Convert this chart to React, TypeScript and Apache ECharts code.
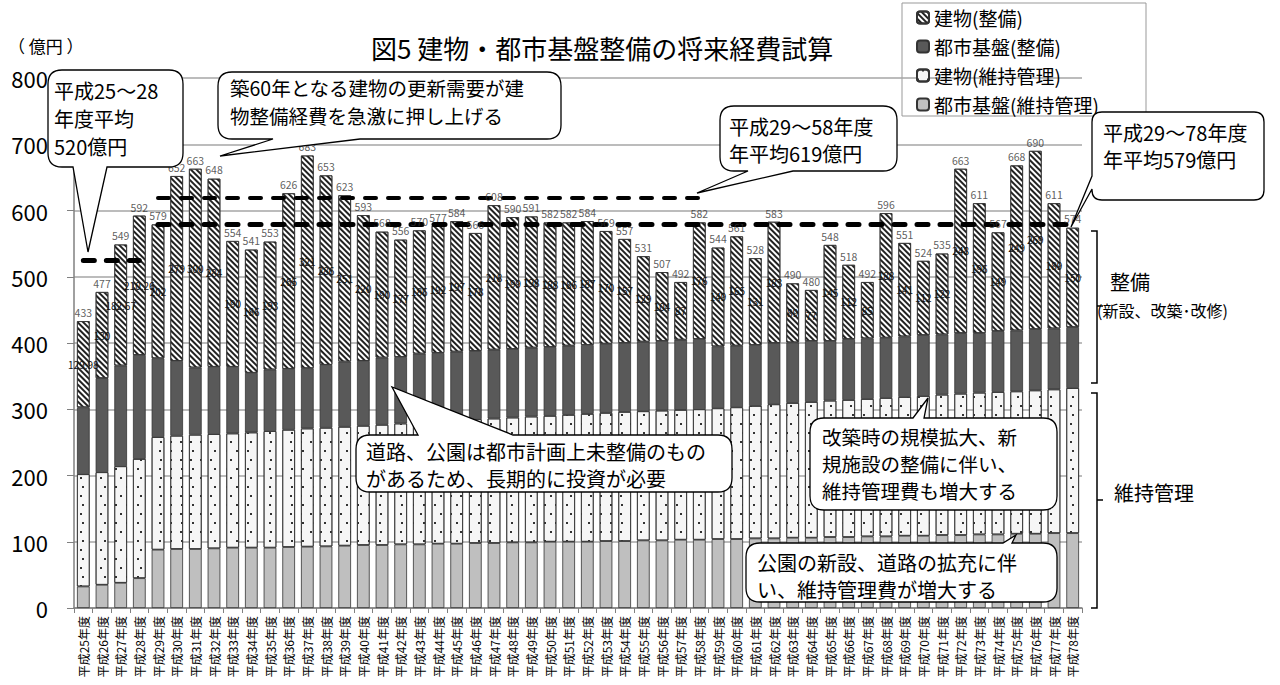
import React, { useEffect, useRef } from "react";
import * as echarts from "echarts";

const FONT = '"Noto Sans CJK JP", "Noto Sans", sans-serif';

const categories = [
  "平成25年度", "平成26年度", "平成27年度", "平成28年度", "平成29年度", "平成30年度",
  "平成31年度", "平成32年度", "平成33年度", "平成34年度", "平成35年度", "平成36年度",
  "平成37年度", "平成38年度", "平成39年度", "平成40年度", "平成41年度", "平成42年度",
  "平成43年度", "平成44年度", "平成45年度", "平成46年度", "平成47年度", "平成48年度",
  "平成49年度", "平成50年度", "平成51年度", "平成52年度", "平成53年度", "平成54年度",
  "平成55年度", "平成56年度", "平成57年度", "平成58年度", "平成59年度", "平成60年度",
  "平成61年度", "平成62年度", "平成63年度", "平成64年度", "平成65年度", "平成66年度",
  "平成67年度", "平成68年度", "平成69年度", "平成70年度", "平成71年度", "平成72年度",
  "平成73年度", "平成74年度", "平成75年度", "平成76年度", "平成77年度", "平成78年度",
];

// 都市基盤(維持管理)
const toshiIji = [
  32.5, 35, 38, 45, 88, 89, 89, 90, 91, 91, 91, 92, 92.5, 93, 94, 95, 95, 96, 96, 97,
  97, 98, 98, 99, 99, 100, 100, 100, 101, 101, 102, 102, 103, 103, 104, 104, 105, 105,
  106, 106, 107, 107, 108, 108, 109, 109, 110, 110, 111, 111, 112, 112, 113, 113,
];
// 建物(維持管理)
const tatemonoIji = [
  169.5, 170, 176, 180, 170, 171, 172.5, 172.5, 172.5, 174, 176, 177, 178.5, 179, 179.5,
  180, 181.5, 182.5, 184.5, 185, 186.5, 187, 188, 188.5, 190, 190, 191.5, 193, 193.5,
  195, 195, 196, 196, 197, 197.5, 199, 200, 202.5, 203.5, 205, 206, 207, 207.5, 209,
  209.5, 211, 212, 213.5, 214, 215, 215, 216.5, 217, 219,
];
// 都市基盤(整備)
const toshiSeibi = [
  101, 142, 152, 157, 119, 113, 101.5, 101.5, 100.5, 90, 93, 92, 91, 95, 98.5, 98,
  101.5, 100.5, 103.5, 103, 103.5, 103, 104, 103.5, 104, 104, 104.5, 104, 104.5, 104,
  105, 105, 106, 106, 93.5, 93, 92, 92.5, 91.5, 92, 90, 92, 91.5, 91, 91.5, 92, 91,
  91.5, 90, 92, 92, 92.5, 92, 92,
];
// 建物(整備)
const tatemonoSeibi = [
  129.98, 130, 182.67, 210.26, 202, 279, 300, 284, 190, 186, 193, 265, 321, 286, 251,
  220, 190, 177, 186, 192, 197, 178, 218, 199, 198, 188, 186, 187, 170, 157, 129, 104,
  87, 176, 149, 165, 131, 183, 89, 77, 145, 112, 85, 188, 141, 112, 122, 248, 196, 149,
  249, 269, 189, 150,
];

const seriesNames = ["建物(整備)", "都市基盤(整備)", "建物(維持管理)", "都市基盤(維持管理)"];

// average lines
const avgFrom = ["平成25年度", "平成29年度", "平成29年度"];
const avgTo = ["平成28年度", "平成58年度", "平成78年度"];
const avgValue = [525, 619, 579];
const avgWidth = [5, 4, 5];

function bubble(
  x: number, y: number, w: number, h: number, r: number,
  side: string, p1: number, p2: number, tx: number, ty: number
) {
  const R = x + w, B = y + h;
  let d = `M${x + r},${y}`;
  if (side === "top") d += ` L${p1},${y} L${tx},${ty} L${p2},${y}`;
  d += ` L${R - r},${y} Q${R},${y} ${R},${y + r}`;
  if (side === "right") d += ` L${R},${p1} L${tx},${ty} L${R},${p2}`;
  d += ` L${R},${B - r} Q${R},${B} ${R - r},${B}`;
  if (side === "bottom") d += ` L${p2},${B} L${tx},${ty} L${p1},${B}`;
  d += ` L${x + r},${B} Q${x},${B} ${x},${B - r}`;
  if (side === "left") d += ` L${x},${p2} L${tx},${ty} L${x},${p1}`;
  d += ` L${x},${y + r} Q${x},${y} ${x + r},${y} Z`;
  return d;
}

const callouts = [
  { box: [48, 70, 135, 97, 14], side: "bottom", p: [73, 107], tip: [88, 252], lines: ["平成25～28", "年度平均", "520億円"], at: [54, 76], lh: 28, fs: 20 },
  { box: [218, 72, 343, 67, 14], side: "bottom", p: [273, 360], tip: [220, 156], lines: ["築60年となる建物の更新需要が建", "物整備経費を急激に押し上げる"], at: [230, 74], lh: 27.5, fs: 19.5 },
  { box: [720, 106, 177, 65, 14], side: "bottom", p: [748, 793], tip: [697, 193], lines: ["平成29～58年度", "年平均619億円"], at: [729, 113], lh: 27, fs: 20 },
  { box: [1092, 112, 172, 88, 10], side: "left", p: [176, 189], tip: [1071, 227], lines: ["平成29～78年度", "年平均579億円"], at: [1103, 119], lh: 27, fs: 20 },
  { box: [356, 435, 376, 57, 14], side: "top", p: [418, 513], tip: [392, 387], lines: ["道路、公園は都市計画上未整備のもの", "があるため、長期的に投資が必要"], at: [366, 438], lh: 27, fs: 20 },
  { box: [810, 418, 247, 92, 14], side: "top", p: [913, 924], tip: [928, 398], lines: ["改築時の規模拡大、新", "規施設の整備に伴い、", "維持管理費も増大する"], at: [822, 423], lh: 27, fs: 19.5 },
  { box: [746, 543, 311, 59, 14], side: "top", p: [1003, 1012], tip: [1016, 535], lines: ["公園の新設、道路の拡充に伴", "い、維持管理費が増大する"], at: [757, 549], lh: 27, fs: 20 },
];

export default function App() {
  const ref = useRef<HTMLDivElement>(null);
  useEffect(() => {
    if (!ref.current) return;
    const chart = echarts.init(ref.current, null, { renderer: "svg" });

    const totals = categories.map((_, i) =>
      Math.round(toshiIji[i] + tatemonoIji[i] + toshiSeibi[i] + tatemonoSeibi[i])
    );

    const graphics: any[] = [];
    callouts.forEach((c, i) => {
      const [x, y, w, h, r] = c.box;
      const d = bubble(x, y, w, h, r, c.side, c.p[0], c.p[1], c.tip[0], c.tip[1]);
      const name = "callout" + i;
      echarts.graphic.registerShape(name, (echarts.graphic as any).extendPath(d, {}));
      graphics.push({
        type: name, x: 0, y: 0, z: 100,
        style: { fill: "#fff", stroke: "#000", lineWidth: 1.3 },
      });
      c.lines.forEach((t, k) => {
        graphics.push({
          type: "text", x: c.at[0], y: c.at[1] + k * c.lh + c.lh / 2, z: 101,
          style: {
            text: t, fill: "#000", fontSize: c.fs, fontFamily: FONT,
            verticalAlign: "middle", align: "left",
          },
        });
      });
    });
    // legend frame, braces and side texts
    graphics.push(
      { type: "rect", z: -1, shape: { x: 902, y: 3, width: 244, height: 113 }, style: { fill: "#fff", stroke: "#999", lineWidth: 1 } },
      { type: "polyline", z: 50, shape: { points: [[1091, 231], [1097, 231], [1097, 383], [1091, 383]] }, style: { stroke: "#000", lineWidth: 1.5, fill: null } },
      { type: "line", z: 50, shape: { x1: 1097, y1: 306, x2: 1103, y2: 306 }, style: { stroke: "#000", lineWidth: 1.5 } },
      { type: "polyline", z: 50, shape: { points: [[1091, 393], [1097, 393], [1097, 608], [1091, 608]] }, style: { stroke: "#000", lineWidth: 1.5, fill: null } },
      { type: "line", z: 50, shape: { x1: 1097, y1: 500, x2: 1103, y2: 500 }, style: { stroke: "#000", lineWidth: 1.5 } },
      { type: "text", x: 1110, y: 281, style: { text: "整備", fontSize: 20, fontFamily: FONT, fill: "#000", verticalAlign: "middle" } },
      { type: "text", x: 1097, y: 310, style: { text: "(新設、改築･改修)", fontSize: 16, fontFamily: FONT, fill: "#000", verticalAlign: "middle" } },
      { type: "text", x: 1114, y: 492, style: { text: "維持管理", fontSize: 20, fontFamily: FONT, fill: "#000", verticalAlign: "middle" } },
      { type: "text", x: 8, y: 45, style: { text: "（ 億円 ）", fontSize: 17, fontFamily: FONT, fill: "#000", verticalAlign: "middle" } }
    );

    const border = { borderColor: "#333", borderWidth: 0.8 };

    const option: any = {
      animation: false,
      backgroundColor: "#fff",
      textStyle: { fontFamily: FONT },
      title: {
        text: "図5 建物・都市基盤整備の将来経費試算",
        left: 366, top: 29,
        textStyle: { fontSize: 26, fontWeight: "normal", color: "#000", fontFamily: FONT },
      },
      legend: {
        data: seriesNames,
        orient: "vertical",
        left: 902, top: 3,
        itemWidth: 12, itemHeight: 12, itemGap: 10,
        padding: [5, 14, 5, 14],
        borderWidth: 0,
        textStyle: { fontSize: 19, color: "#000", fontFamily: FONT },
      },
      grid: { left: 74, right: 198, top: 78, bottom: 77, containLabel: false, outerBoundsMode: "none" },
      xAxis: {
        type: "category",
        data: categories,
        axisLine: { lineStyle: { color: "#808080", width: 1.5 } },
        axisTick: { show: true, length: 5, lineStyle: { color: "#808080" } },
        axisLabel: { interval: 0, rotate: 90, fontSize: 12, color: "#000", margin: 8, fontFamily: FONT },
      },
      yAxis: {
        type: "value", min: 0, max: 800, interval: 100,
        axisLine: { show: true, lineStyle: { color: "#808080", width: 1.5 } },
        axisTick: { show: true, length: 7, lineStyle: { color: "#808080" } },
        axisLabel: { fontSize: 22, color: "#000", margin: 26, fontFamily: FONT },
        splitLine: { lineStyle: { color: "#a6a6a6", width: 1.5 } },
      },
      series: [
        {
          name: "都市基盤(維持管理)", type: "bar", stack: "s", data: toshiIji,
          barCategoryGap: "32%",
          itemStyle: { color: "#bfbfbf", ...border },
        },
        {
          name: "建物(維持管理)", type: "bar", stack: "s", data: tatemonoIji,
          itemStyle: {
            color: "#f6f6f6", ...border,
            decal: {
              symbol: "rect", symbolSize: 1, color: "#333",
              dashArrayX: [[1.2, 8], [0, 4.6, 1.2, 3.4]],
              dashArrayY: [1.2, 6.5],
            },
          },
        },
        {
          name: "都市基盤(整備)", type: "bar", stack: "s", data: toshiSeibi,
          itemStyle: { color: "#595959", ...border },
        },
        {
          name: "建物(整備)", type: "bar", stack: "s", data: tatemonoSeibi,
          itemStyle: {
            color: "#ffffff", ...border,
            decal: {
              symbol: "rect", symbolSize: 1, color: "#222",
              dashArrayX: [1, 0], dashArrayY: [1.2, 1.9], rotation: Math.PI / 4,
            },
          },
          label: {
            show: true, position: "inside", fontSize: 10, color: "#111",
            formatter: (p: any) => String(p.value),
          },
        },
        {
          name: "合計", type: "scatter", data: totals,
          symbol: "circle", symbolSize: 1,
          itemStyle: { color: "rgba(0,0,0,0)" },
          label: {
            show: true, position: "top", distance: 3, fontSize: 10.5, color: "#333",
            formatter: (p: any) => String(totals[p.dataIndex]),
          },
          z: 5,
          markLine: {
            silent: true, symbol: "none", animation: false,
            label: { show: false },
            data: avgValue.map((v, i) => [
              {
                coord: [avgFrom[i], v],
                lineStyle: { color: "#000", width: avgWidth[i], type: [11, 12], cap: "round" },
              },
              { coord: [avgTo[i], v] },
            ]),
          },
        },
      ],
      graphic: graphics,
    };

    chart.setOption(option);
    return () => chart.dispose();
  }, []);
  return <div ref={ref} style={{ position: "fixed", left: 0, top: 0, width: 1280, height: 685 }} />;
}
